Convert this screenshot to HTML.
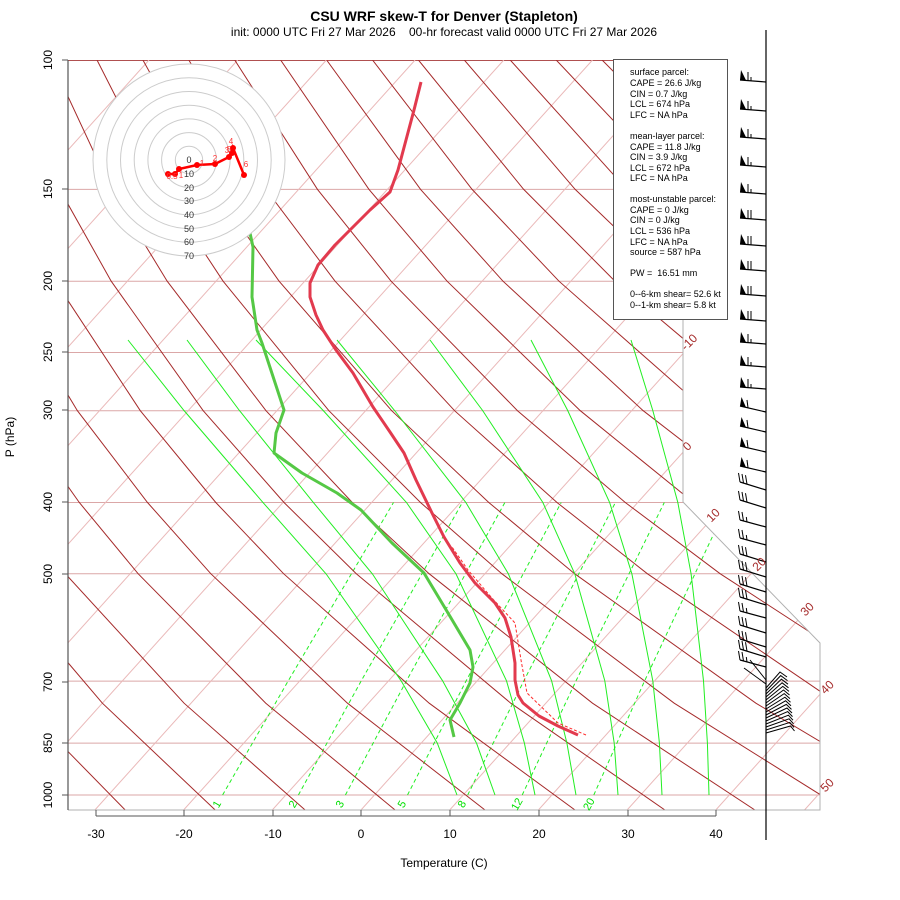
<!DOCTYPE html>
<html><head><meta charset="utf-8">
<style>
html,body{margin:0;padding:0;background:#fff;}
svg{display:block;font-family:"Liberation Sans",sans-serif;}
</style></head>
<body>
<svg width="900" height="900" viewBox="0 0 900 900" xmlns="http://www.w3.org/2000/svg">
<defs>
<clipPath id="cp"><polygon points="68,60 683,60 683,502 820,643 820,810 68,810"/></clipPath>
<g id="P1"><line x1="766" y1="0" x2="740" y2="-2"/><polygon points="740,-2 746,-1.7 741,-12" stroke="none"/><line x1="748" y1="-1.5" x2="748" y2="-10" stroke-width="1"/><line x1="751" y1="-1.3" x2="751" y2="-5" stroke-width="1"/></g>
<g id="P2"><line x1="766" y1="0" x2="740" y2="-2"/><polygon points="740,-2 746,-1.7 741,-12" stroke="none"/><line x1="748" y1="-1.5" x2="748" y2="-10" stroke-width="1"/><line x1="751" y1="-1.3" x2="751" y2="-10" stroke-width="1"/></g>
<g id="P3"><line x1="766" y1="0" x2="740" y2="-6"/><polygon points="740,-6 746,-4.6 741.5,-15" stroke="none"/><line x1="748" y1="-4.2" x2="747" y2="-12" stroke-width="1"/></g>
<g id="F3"><line x1="766" y1="0" x2="740" y2="-8"/><line x1="740" y1="-8" x2="738.5" y2="-17" stroke-width="1"/><line x1="743.5" y1="-7" x2="742" y2="-16" stroke-width="1"/><line x1="747" y1="-5.8" x2="745.5" y2="-14.8" stroke-width="1"/></g>
<g id="F2"><line x1="766" y1="0" x2="740" y2="-7"/><line x1="740" y1="-7" x2="738.5" y2="-16" stroke-width="1"/><line x1="743.5" y1="-6" x2="742" y2="-15" stroke-width="1"/><line x1="747" y1="-5" x2="746.3" y2="-10" stroke-width="1"/></g>
</defs>
<rect width="900" height="900" fill="#fff"/>
<g clip-path="url(#cp)" fill="none">
<!-- isobars -->
<g stroke="#dba7a7" stroke-width="1">
<line x1="68" x2="830" y1="189.4" y2="189.4"/><line x1="68" x2="830" y1="281.2" y2="281.2"/>
<line x1="68" x2="830" y1="352.5" y2="352.5"/><line x1="68" x2="830" y1="410.7" y2="410.7"/>
<line x1="68" x2="830" y1="502.5" y2="502.5"/><line x1="68" x2="830" y1="573.7" y2="573.7"/>
<line x1="68" x2="830" y1="681.1" y2="681.1"/><line x1="68" x2="830" y1="743.1" y2="743.1"/>
<line x1="68" x2="830" y1="795" y2="795"/>
</g>
<line x1="68" x2="830" y1="60.5" y2="60.5" stroke="#b05050" stroke-width="1"/>
<!-- isotherms -->
<g stroke="#eab9b9" stroke-width="1">
<line x1="-614.7" y1="810" x2="60.3" y2="60"/><line x1="-526" y1="810" x2="149" y2="60"/>
<line x1="-437.3" y1="810" x2="237.7" y2="60"/><line x1="-348.6" y1="810" x2="326.4" y2="60"/>
<line x1="-259.9" y1="810" x2="415.1" y2="60"/><line x1="-171.2" y1="810" x2="503.8" y2="60"/>
<line x1="-82.5" y1="810" x2="592.5" y2="60"/><line x1="6.2" y1="810" x2="681.2" y2="60"/>
<line x1="94.9" y1="810" x2="769.9" y2="60"/><line x1="183.6" y1="810" x2="858.6" y2="60"/>
<line x1="272.3" y1="810" x2="947.3" y2="60"/><line x1="361" y1="810" x2="1036" y2="60"/>
<line x1="449.7" y1="810" x2="1124.7" y2="60"/><line x1="538.4" y1="810" x2="1213.4" y2="60"/>
<line x1="627.1" y1="810" x2="1302.1" y2="60"/><line x1="715.8" y1="810" x2="1390.8" y2="60"/>
<line x1="804.5" y1="810" x2="1479.5" y2="60"/>
</g>
<!-- mixing ratio -->
<g stroke="#22ee22" stroke-width="1" stroke-dasharray="4,3">
<polyline points="222.6,795 288.1,681.1 393.5,502.5"/>
<polyline points="298.4,795 361.1,681.1 462.4,502.5"/>
<polyline points="345.4,795 406.3,681.1 504.9,502.5"/>
<polyline points="407.5,795 466,681.1 561.2,502.5"/>
<polyline points="467.7,795 523.7,681.1 615.4,502.5"/>
<polyline points="522.2,795 575.9,681.1 664.3,502.5"/>
<polyline points="593.8,795 644.5,681.1 728.5,502.5"/>
</g>
<!-- dry adiabats -->
<g stroke="#a52a2a" stroke-width="1">
<polyline points="125.2,810 20.7,703.2 -80.2,573.7"/>
<polyline points="215.2,810 102.4,703.2 -7.5,573.7 -57.3,502.5"/>
<polyline points="305.1,810 184.1,703.2 65.3,573.7 11,502.5 -48.3,410.7"/>
<polyline points="395.1,810 265.8,703.2 138.1,573.7 79.3,502.5 14.6,410.7 -56.8,281.2"/>
<polyline points="485,810 347.5,703.2 210.8,573.7 147.5,502.5 77.4,410.7 -0.8,281.2 -43.5,189.4"/>
<polyline points="575,810 429.2,703.2 283.6,573.7 215.8,502.5 140.3,410.7 55.2,281.2 8.1,189.4 -40.8,60"/>
<polyline points="664.9,810 510.8,703.2 356.3,573.7 284,502.5 203.2,410.7 111.2,281.2 59.7,189.4 5.1,60"/>
<polyline points="754.9,810 592.5,703.2 429.1,573.7 352.3,502.5 266,410.7 167.2,281.2 111.2,189.4 51,60"/>
<polyline points="844.8,810 674.2,703.2 501.8,573.7 420.5,502.5 328.9,410.7 223.1,281.2 162.8,189.4 97,60"/>
<polyline points="934.8,810 755.9,703.2 574.6,573.7 488.8,502.5 391.7,410.7 279.1,281.2 214.3,189.4 142.9,60"/>
<polyline points="1024.7,810 837.6,703.2 647.3,573.7 557,502.5 454.6,410.7 335.1,281.2 265.9,189.4 188.8,60"/>
<polyline points="919.3,703.2 720.1,573.7 625.3,502.5 517.5,410.7 391.1,281.2 317.5,189.4 234.7,60"/>
<polyline points="1001,703.2 792.8,573.7 693.5,502.5 580.3,410.7 447.1,281.2 369,189.4 280.6,60"/>
<polyline points="865.6,573.7 761.8,502.5 643.2,410.7 503,281.2 420.6,189.4 326.6,60"/>
<polyline points="938.3,573.7 830,502.5 706,410.7 559,281.2 472.1,189.4 372.5,60"/>
<polyline points="898.3,502.5 768.9,410.7 615,281.2 523.7,189.4 418.4,60"/>
<polyline points="966.5,502.5 831.8,410.7 671,281.2 575.2,189.4 464.3,60"/>
<polyline points="894.6,410.7 727,281.2 626.8,189.4 510.2,60"/>
<polyline points="957.5,410.7 782.9,281.2 678.4,189.4 556.2,60"/>
<polyline points="838.9,281.2 729.9,189.4 602.1,60"/>
<polyline points="894.9,281.2 781.5,189.4 648,60"/>
</g>
<!-- moist adiabats -->
<g stroke="#22ee22" stroke-width="1">
<polyline points="128,340 184,410.5 262.9,502.4 326.1,573.9 401.1,680.8 437.3,743.1 457,795"/>
<polyline points="187,340 239.4,410.5 313.3,502.4 372.4,573.9 442.6,680.8 476.5,743.1 495,795"/>
<polyline points="256,340 323.2,410.5 406.4,502.4 456,573.9 506.5,680.8 524.4,743.1 535,795"/>
<polyline points="337,340 394.6,410.5 465.8,502.4 508.4,573.9 551.6,680.8 566.9,743.1 576,795"/>
<polyline points="430,340 482.6,410.5 542.8,502.4 574.8,573.9 604.8,680.8 614.2,743.1 618,795"/>
<polyline points="531,340 567.7,410.5 609.6,502.4 631.9,573.9 652.8,680.8 659.4,743.1 662,795"/>
<polyline points="631,340 652.8,410.5 677.8,502.4 691.1,573.9 703.5,680.8 707.4,743.1 709,795"/>
</g>
</g>
<polyline points="683,60 683,502 820,643 820,810 68,810" fill="none" stroke="#b0b0b0" stroke-width="1"/>
<line x1="68" y1="60" x2="68" y2="810" stroke="#555" stroke-width="1.2"/>

<!-- sounding -->
<g fill="none" stroke-linejoin="round">
<polyline stroke="#ff2a2a" stroke-width="1" stroke-dasharray="3,2" points="586,735 558,723 527,693 521,660 515,623 491,597 468,570 452,547"/>
<polyline stroke="#55c845" stroke-width="3" points="250,233 253,247 252,297 257,330 262,343 284,410 276,433 274,453 302,473 337,493 361,510 392,543 424,573 448,613 470,650 473,667 470,683 460,703 450,720 454,737"/>
<polyline stroke="#e23a4e" stroke-width="3" points="421,82 414,110 406,140 398,170 390,192 370,210 350,230 335,245 318,265 310,283 310,297 316,315 323,330 336,350 353,373 373,407 390,432 404,453 416,480 432,513 444,537 460,563 475,583 495,603 505,618 511,637 515,663 515,680 518,695 523,703 539,716 558,726 578,735"/>
</g>

<!-- hodograph -->
<circle cx="189" cy="160" r="96" fill="#fff" stroke="#ccc"/>
<g fill="none" stroke="#ccc">
<circle cx="189" cy="160" r="13.7"/><circle cx="189" cy="160" r="27.4"/><circle cx="189" cy="160" r="41.1"/>
<circle cx="189" cy="160" r="54.8"/><circle cx="189" cy="160" r="68.5"/><circle cx="189" cy="160" r="82.2"/>
</g>
<g font-size="9" text-anchor="middle" fill="#333">
<text x="189" y="163">0</text><text x="189" y="177">10</text><text x="189" y="191">20</text>
<text x="189" y="204">30</text><text x="189" y="218">40</text><text x="189" y="232">50</text>
<text x="189" y="245">60</text><text x="189" y="259">70</text>
</g>
<polyline points="168,174 175,174 179,169 197,165 215,164 229,157 232,153 233,148 244,175" fill="none" stroke="#f00" stroke-width="2.5"/>
<g fill="#f00">
<circle cx="168" cy="174" r="3"/><circle cx="175" cy="174" r="3"/><circle cx="179" cy="169" r="3"/>
<circle cx="197" cy="165" r="3"/><circle cx="215" cy="164" r="3"/><circle cx="229" cy="157" r="3"/>
<circle cx="232" cy="153" r="3"/><circle cx="233" cy="148" r="3"/><circle cx="244" cy="175" r="3"/>
</g>
<g font-size="8" text-anchor="middle" fill="#f33">
<text x="202" y="166">1</text><text x="215" y="161">2</text><text x="227" y="153">3</text>
<text x="231" y="144">4</text><text x="229" y="152">5</text><text x="246" y="167">6</text>
<text x="172" y="179">0.5</text><text x="181" y="178">1</text>
</g>

<!-- barbs -->
<g stroke="#000" fill="#000" stroke-width="1.2">
<use href="#P1" transform="translate(0,82)"/><use href="#P1" transform="translate(0,111)"/>
<use href="#P1" transform="translate(0,139)"/><use href="#P1" transform="translate(0,167)"/>
<use href="#P1" transform="translate(0,194)"/><use href="#P2" transform="translate(0,220)"/>
<use href="#P2" transform="translate(0,246)"/><use href="#P2" transform="translate(0,271)"/>
<use href="#P2" transform="translate(0,296)"/><use href="#P2" transform="translate(0,321)"/>
<use href="#P1" transform="translate(0,344)"/><use href="#P1" transform="translate(0,367)"/>
<use href="#P1" transform="translate(0,389)"/><use href="#P3" transform="translate(0,412)"/>
<use href="#P3" transform="translate(0,432)"/><use href="#P3" transform="translate(0,452)"/>
<use href="#P3" transform="translate(0,472)"/>
<use href="#F3" transform="translate(0,490)"/><use href="#F3" transform="translate(0,508)"/>
<use href="#F2" transform="translate(0,527)"/><use href="#F2" transform="translate(0,545)"/>
<use href="#F3" transform="translate(0,562)"/><use href="#F3" transform="translate(0,577)"/>
<use href="#F3" transform="translate(0,592)"/><use href="#F3" transform="translate(0,605)"/>
<use href="#F2" transform="translate(0,618)"/><use href="#F3" transform="translate(0,633)"/>
<use href="#F3" transform="translate(0,647)"/><use href="#F3" transform="translate(0,657)"/>
<use href="#F2" transform="translate(0,667)"/>
<g fill="none" stroke-width="1">
<line x1="766" y1="680" x2="750" y2="660"/><line x1="766" y1="684" x2="744" y2="668"/>
<polyline points="766,688 780,672 787,677"/><polyline points="766,691 780.7,675.6 787.5,680.6"/>
<polyline points="766,694 781.4,679.2 788,684.2"/><polyline points="766,697 782.1,682.8 788.5,687.8"/>
<polyline points="766,700 782.8,686.4 789,691.4"/><polyline points="766,703 783.5,690 789.5,695"/>
<polyline points="766,706 784.2,693.6 790,698.6"/><polyline points="766,709 784.9,697.2 790.5,702.2"/>
<polyline points="766,712 785.6,700.8 791,705.8"/><polyline points="766,715 786.3,704.4 791.5,709.4"/>
<polyline points="766,718 787,708 792,713"/><polyline points="766,721 787.7,711.6 792.5,716.6"/>
<polyline points="766,724 788.4,715.2 793,720.2"/><polyline points="766,727 789.1,718.8 793.5,723.8"/>
<polyline points="766,730 789.8,722.4 794,727.4"/><polyline points="766,733 790.5,726 794.5,731"/>
</g>
</g>
<line x1="766" y1="30" x2="766" y2="840" stroke="#000" stroke-width="1.2"/>

<g font-size="12" fill="#a52a2a" text-anchor="middle">
<text transform="translate(692,345) rotate(-45)">-10</text>
<text transform="translate(690,449) rotate(-45)">0</text>
<text transform="translate(716,518) rotate(-45)">10</text>
<text transform="translate(762,567) rotate(-45)">20</text>
<text transform="translate(810,612) rotate(-45)">30</text>
<text transform="translate(830,690) rotate(-45)">40</text>
<text transform="translate(830,788) rotate(-45)">50</text>
</g>
<g font-size="11" fill="#00e000" text-anchor="middle">
<text transform="translate(220,806) rotate(-60)">1</text>
<text transform="translate(296,806) rotate(-60)">2</text>
<text transform="translate(343,806) rotate(-60)">3</text>
<text transform="translate(405,806) rotate(-60)">5</text>
<text transform="translate(465,806) rotate(-60)">8</text>
<text transform="translate(520,806) rotate(-60)">12</text>
<text transform="translate(592,806) rotate(-60)">20</text>
</g>

<g font-size="12" fill="#000" text-anchor="middle">
<text transform="translate(52,60) rotate(-90)">100</text>
<text transform="translate(52,189) rotate(-90)">150</text>
<text transform="translate(52,281) rotate(-90)">200</text>
<text transform="translate(52,352) rotate(-90)">250</text>
<text transform="translate(52,410) rotate(-90)">300</text>
<text transform="translate(52,502) rotate(-90)">400</text>
<text transform="translate(52,574) rotate(-90)">500</text>
<text transform="translate(52,682) rotate(-90)">700</text>
<text transform="translate(52,743) rotate(-90)">850</text>
<text transform="translate(52,795) rotate(-90)">1000</text>
<text transform="translate(14,437) rotate(-90)">P (hPa)</text>
<text x="96" y="838">-30</text>
<text x="184" y="838">-20</text>
<text x="273" y="838">-10</text>
<text x="361" y="838">0</text>
<text x="450" y="838">10</text>
<text x="539" y="838">20</text>
<text x="628" y="838">30</text>
<text x="716" y="838">40</text>
<text x="444" y="867">Temperature (C)</text>
<text x="444" y="21" font-size="14" font-weight="bold">CSU WRF skew-T for Denver (Stapleton)</text>
<text x="444" y="36" xml:space="preserve">init: 0000 UTC Fri 27 Mar 2026    00-hr forecast valid 0000 UTC Fri 27 Mar 2026</text>
</g>
<g stroke="#555" stroke-width="1">
<line x1="62" y1="60" x2="68" y2="60"/><line x1="62" y1="189" x2="68" y2="189"/>
<line x1="62" y1="281" x2="68" y2="281"/><line x1="62" y1="352" x2="68" y2="352"/>
<line x1="62" y1="410" x2="68" y2="410"/><line x1="62" y1="502" x2="68" y2="502"/>
<line x1="62" y1="574" x2="68" y2="574"/><line x1="62" y1="682" x2="68" y2="682"/>
<line x1="62" y1="743" x2="68" y2="743"/><line x1="62" y1="795" x2="68" y2="795"/>
<line x1="96" y1="810" x2="96" y2="816"/><line x1="184" y1="810" x2="184" y2="816"/>
<line x1="273" y1="810" x2="273" y2="816"/><line x1="361" y1="810" x2="361" y2="816"/>
<line x1="450" y1="810" x2="450" y2="816"/><line x1="539" y1="810" x2="539" y2="816"/>
<line x1="628" y1="810" x2="628" y2="816"/><line x1="716" y1="810" x2="716" y2="816"/>
<line x1="96" y1="816" x2="716" y2="816"/>
</g>

<rect x="613.5" y="59.5" width="114" height="260" fill="#fff" stroke="#555" stroke-width="1"/>
<g font-size="9" fill="#000">
<text x="630" y="75">surface parcel:</text>
<text x="630" y="86">CAPE = 26.6 J/kg</text>
<text x="630" y="97">CIN = 0.7 J/kg</text>
<text x="630" y="107">LCL = 674 hPa</text>
<text x="630" y="118">LFC = NA hPa</text>
<text x="630" y="139">mean-layer parcel:</text>
<text x="630" y="150">CAPE = 11.8 J/kg</text>
<text x="630" y="160">CIN = 3.9 J/kg</text>
<text x="630" y="171">LCL = 672 hPa</text>
<text x="630" y="181">LFC = NA hPa</text>
<text x="630" y="202">most-unstable parcel:</text>
<text x="630" y="213">CAPE = 0 J/kg</text>
<text x="630" y="223">CIN = 0 J/kg</text>
<text x="630" y="234">LCL = 536 hPa</text>
<text x="630" y="245">LFC = NA hPa</text>
<text x="630" y="255">source = 587 hPa</text>
<text x="630" y="276" xml:space="preserve">PW =  16.51 mm</text>
<text x="630" y="297">0--6-km shear= 52.6 kt</text>
<text x="630" y="308">0--1-km shear= 5.8 kt</text>
</g>
</svg>
</body></html>
